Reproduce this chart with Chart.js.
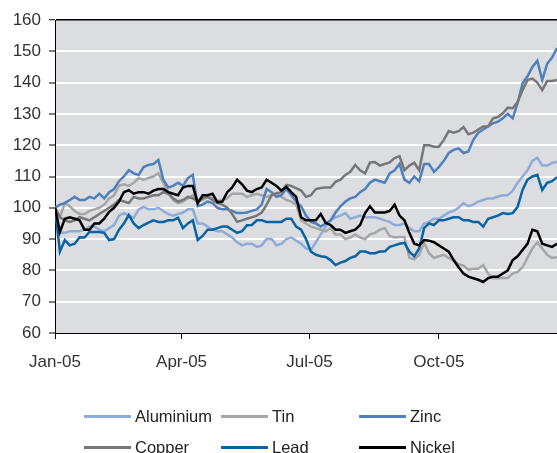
<!DOCTYPE html>
<html>
<head>
<meta charset="utf-8">
<script src="https://cdn.jsdelivr.net/npm/chart.js@4/dist/chart.umd.min.js"></script>
<style>
  body { margin: 0; background: #fff; }
  #wrap { position: relative; width: 557px; height: 453px; overflow: hidden; }
  .item { position: absolute; font-family: "Liberation Sans", Arial, sans-serif; font-size: 16.5px; color: #222; line-height: 20px; white-space: nowrap; }
  .item i { position: absolute; left: -51px; top: 9px; width: 47px; height: 3px; }
</style>
</head>
<body>
<div id="wrap">
  <canvas id="chart" width="557" height="453"></canvas>
  <div id="legend"></div>
</div>
<script>
// days since 1 Jan 2005, two readings per week
const days = [0,3.5,7,10.5,14,17.5,21,24.5,28,31.5,35,38.5,42,45.5,49,52.5,56,59.5,63,66.5,70,73.5,77,80.5,84,87.5,91,94.5,98,101.5,105,108.5,112,115.5,119,122.5,126,129.5,133,136.5,140,143.5,147,150.5,154,157.5,161,164.5,168,171.5,175,178.5,182,185.5,189,192.5,196,199.5,203,206.5,210,213.5,217,220.5,224,227.5,231,234.5,238,241.5,245,248.5,252,255.5,259,262.5,266,269.5,273,276.5,280,283.5,287,290.5,294,297.5,301,304.5,308,311.5,315,318.5,322,325.5,329,332.5,336,339.5,343,346.5,350,353.5,357];
const tickDays = [0, 90, 181, 273];
const tickLabels = ['Jan-05', 'Apr-05', 'Jul-05', 'Oct-05'];

const aluminium = [100,92,92,92.5,92.5,92.5,93,94,94,93,92.5,93.5,94.5,97.5,98.3,97.5,96.8,99.5,100.3,99.5,99.5,100,99,98,97.5,98,98.5,99.5,99.5,95,95,94,93,92.5,92.5,91.5,90.5,89,88,88.5,88.5,87.5,88,90,90,88,88.5,90,90.5,89.5,88.5,87,86.5,89,91.5,94,96,97,97.5,98.3,96.5,97,97.5,97,97,97,96.5,96,95.5,94.5,94.5,95,93.5,92.5,92.5,95,95.5,96.5,96.5,97.5,98.5,99,100,101.5,100.5,101,102,102.5,103,103,103.6,104,104,105.5,108,110,112,115,116,113.5,113.5,114.3,114.7];
const tin = [100,97,101.5,100.5,99,98,98,99,99.5,100,101,103,104,107,107.5,107,108,109.5,109,109.5,110,111,108,105,102.5,101.5,102,103,104,102,102.5,103.5,103,102,102.5,103,104.5,104.5,104.5,103.5,104,104.5,104,103.5,104,104.5,103.5,102.5,102,101,96,95,94,93.5,93,92.5,93.5,91.5,91.5,90,90.5,91.5,90.5,90,91.5,92,93,93.5,91,90.5,90.7,90.7,84,83.5,85,88.8,85.5,84,84.5,85,84,83,82,81.5,80.2,80.5,80.5,81.7,79,77.5,77.5,77.6,77.6,79,79.5,81,84,87,89,87,85,84,84.3];
const zinc = [100,101,101.5,102.5,103.5,102.5,102.5,103.5,103,104.5,103,105,106,108.5,110,112,111,110.5,113,113.7,114,115.3,109,106.5,107,108,107,109.5,110.5,100.5,101,102,101.5,100,99.5,99.5,99,98.3,98.3,98.5,99,99.5,101,106,105,103.5,104,106,104,102,100.5,97.5,95.5,95,94,95,96,98.5,100.5,102,103,103.5,105,106,108,109,108.5,108,111,112,114,109,108,110,108.5,114,114,111.5,113,115,117.5,118.5,119,117.5,118,121.7,124,125,126,127,127.5,128.6,130,128.6,133.5,139.8,142,145,147,140.8,146,148,151];
const copper = [100,97,96,95.5,96,97,96.5,96,97,98,99,100,101,102.5,102,101.5,103.5,103,103,103.5,104,104,105,104.5,103,102,102.5,103.5,103,102,103,103.5,102.5,101.5,101,100,98,95.5,96,96.5,97,97.5,98.5,101,104,104.7,105,107.3,107,106.3,105.5,103.5,104,106,106.3,106.5,106.5,108.3,109,110.5,111.5,113.7,112,111,114.5,114.6,113.5,114,114.5,115.9,116.5,112,113.5,114.4,112,120,120,119.5,119.5,121.7,124.5,124,124.5,125.8,123.5,124,125,126,126,128.6,129,130.2,132,131.8,133.8,137.6,140.8,141.3,140,137.6,140.5,140.5,140.8];
const lead = [100,86,89.7,88,88.5,90.6,90.5,92.3,92.3,92.3,92,89.7,90,93,95,97.7,95,93.5,94.5,95.3,96,95.5,95.5,96,96,96.8,93.5,95,96,89.7,91,93,93,93.5,94,94,93,92,92.5,94.4,94.5,96,96,95.5,95.5,95.5,95.5,96.5,96.5,94,93,90,86,85,84.5,84.3,83.3,81.7,82.5,83,84,84.5,86,86,85.5,85.5,86,86,87.5,88,88.5,88.8,86,84.5,87,93.5,95,94.5,96,96,96.5,97,97,96,96,95.5,95.5,94,96.5,97,97.5,98.3,98,98.3,100.3,105.7,109,110,110.5,105.7,108,108.5,109.8];
const nickel = [100,92.3,96.5,97,96.5,96,93,93,95,95,96.5,98.7,100,102,105,105.6,104.5,105,105,104.5,105.5,106,106,105,104.5,104,106.5,107,107,101.5,104,104,104.5,101.8,102,105,106.5,109,107.5,105.5,105,106,106.5,109,108,107,105.5,106.7,105,103.5,97,96,96,96,98,95.2,94.5,93,93,92,92.5,93,94.5,98.3,100.5,98.5,98.5,98.5,99,101,97.5,96,92,88.5,88,89.7,89.5,89,88,87,86,83.3,81,79,78,77.5,77,76.3,77.5,78,78,79,80,83.3,84.5,86.5,88.5,93,92.5,88.5,88,87.5,88.5];

const series = [
  { label: 'Aluminium', values: aluminium, color: '#8fabd8' },
  { label: 'Tin', values: tin, color: '#a6a6a6' },
  { label: 'Zinc', values: zinc, color: '#4f7fbd' },
  { label: 'Copper', values: copper, color: '#777777' },
  { label: 'Lead', values: lead, color: '#0a64a3' },
  { label: 'Nickel', values: nickel, color: '#000000' }
];

const plotBg = {
  id: 'plotBg',
  beforeDraw(chart) {
    const { ctx, chartArea: a } = chart;
    ctx.save();
    ctx.fillStyle = '#dcdde0';
    ctx.fillRect(a.left, a.top, a.right - a.left, a.bottom - a.top);
    ctx.restore();
  }
};

const font = { family: '"Liberation Sans", Arial, sans-serif', size: 17 };

new Chart(document.getElementById('chart'), {
  type: 'line',
  data: {
    datasets: series.map((s, i) => ({
      label: s.label,
      data: days.map((d, j) => ({ x: d, y: s.values[j] })),
      borderColor: s.color,
      backgroundColor: s.color,
      borderWidth: 2.5,
      pointRadius: 0,
      tension: 0,
      order: s.label === 'Nickel' ? 0 : 6 - i
    }))
  },
  options: {
    responsive: false,
    animation: false,
    layout: { padding: { top: 20, bottom: 80, left: 0, right: 0 } },
    plugins: { legend: { display: false }, tooltip: { enabled: false } },
    scales: {
      x: {
        type: 'linear',
        min: 0,
        max: 357,
        afterBuildTicks: (scale) => { scale.ticks = tickDays.map(v => ({ value: v })); },
        afterFit: (scale) => { scale.height = 40; },
        ticks: {
          autoSkip: false,
          maxRotation: 0,
          padding: 13,
          color: '#333',
          font: font,
          callback: (v) => tickLabels[tickDays.indexOf(v)]
        },
        grid: { drawOnChartArea: false, drawTicks: true, tickLength: 6, tickColor: '#000', tickWidth: 1 },
        border: { color: '#000', width: 1 }
      },
      y: {
        min: 60,
        max: 160,
        afterFit: (scale) => { scale.width = 55; },
        ticks: { stepSize: 10, padding: 8, color: '#333', font: font },
        grid: {
          color: (c) => c.tick.value === 160 ? '#000' : (c.tick.value === 60 ? 'rgba(0,0,0,0)' : '#ffffff'),
          lineWidth: (c) => c.tick.value === 160 ? 1.5 : 2,
          tickColor: '#000',
          tickLength: 6,
          tickWidth: 1
        },
        border: { color: '#000', width: 1 }
      }
    }
  },
  plugins: [plotBg]
});

// legend laid out in three columns like the original
const legend = document.getElementById('legend');
const cols = [135, 272, 410];
const rows = [406, 437];
series.forEach((s, i) => {
  const el = document.createElement('div');
  el.className = 'item';
  el.style.left = cols[i % 3] + 'px';
  el.style.top = rows[Math.floor(i / 3)] + 'px';
  el.innerHTML = '<i style="background:' + s.color + '"></i>' + s.label;
  legend.appendChild(el);
});
</script>
</body>
</html>
